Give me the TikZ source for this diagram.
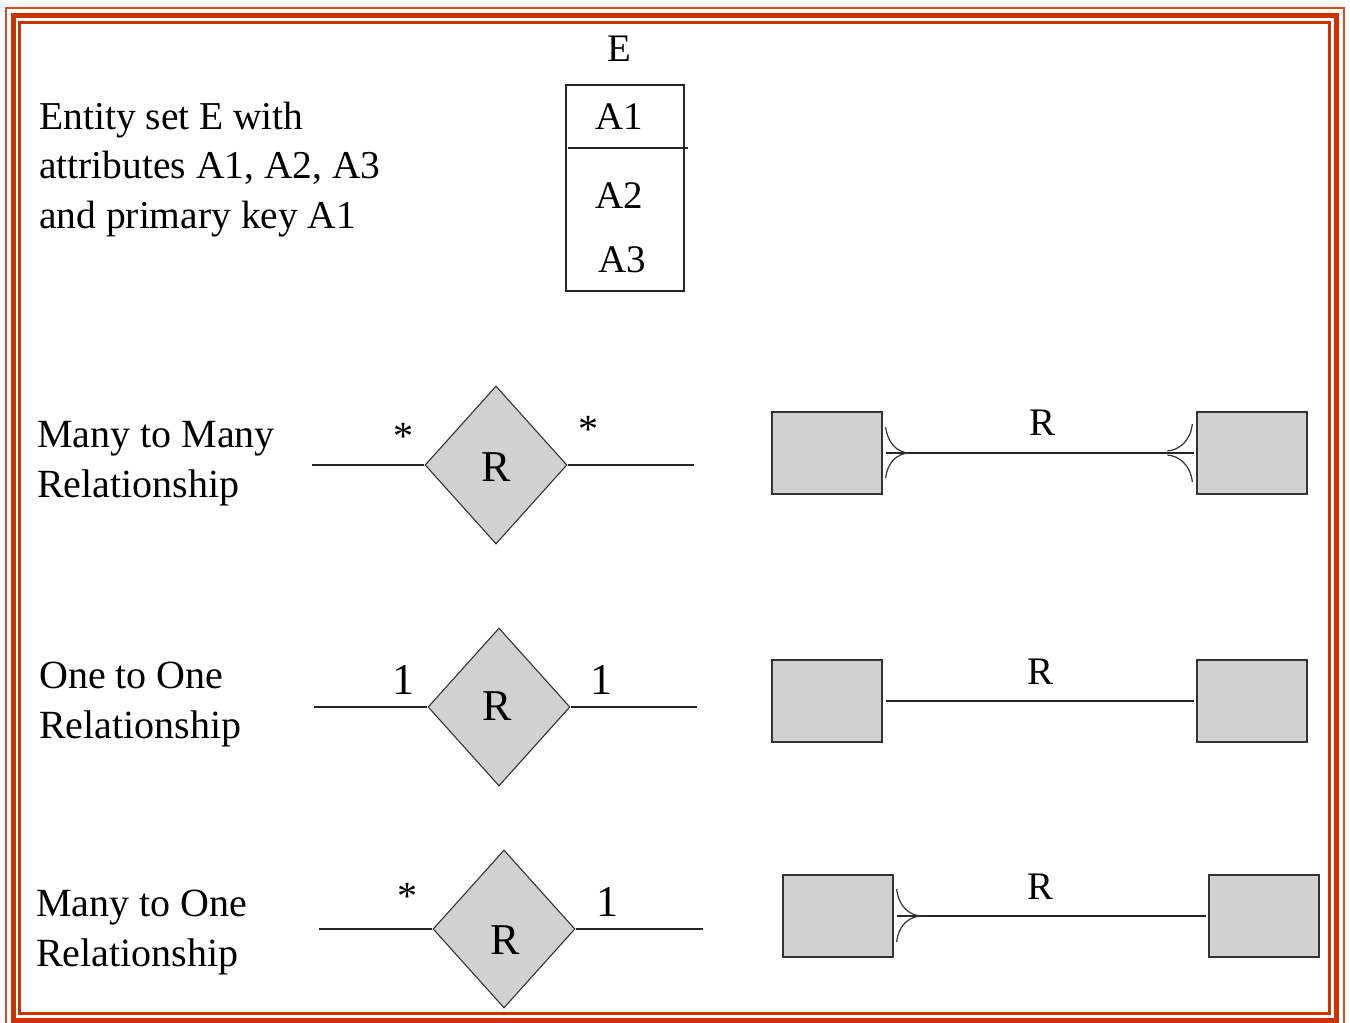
\documentclass[tikz,border=0pt]{standalone}
\usepackage{fontspec}
\setmainfont{Liberation Serif}
\usetikzlibrary{shapes.geometric,calc}
\definecolor{frame}{RGB}{204,51,0}
\definecolor{frameL}{RGB}{215,75,30}
\definecolor{boxgray}{RGB}{209,209,209}
\tikzset{
  lefttext/.style={anchor=base west, inner sep=0pt, align=left, font=\fontsize{40}{50}\selectfont},
  biglab/.style={inner sep=0pt, font=\fontsize{44}{46}\selectfont},
  tmslab/.style={inner sep=0pt, font=\fontsize{39}{46}\selectfont},
  starlab/.style={inner sep=0pt, font=\fontsize{40}{46}\selectfont},
  ent/.style={draw=black!80, line width=1.3pt, fill=boxgray, minimum width=110pt, minimum height=82pt, inner sep=0pt},
  rel/.style={diamond, draw=black!80, line width=1.1pt, fill=boxgray, minimum width=142pt, minimum height=158pt, inner sep=0pt},
  conn/.style={draw=black!85, line width=1.3pt},
  foot/.style={draw=black!80, line width=1.2pt},
}
\begin{document}
\begin{tikzpicture}[x=1pt,y=-1pt]
\useasboundingbox (0,0) rectangle (1350,1023);
% frame
\draw[frameL, line width=2pt] (6,7.5) rectangle (1344,1032);
\draw[frame, line width=5.5pt] (13.5,15.5) rectangle (1336.5,1020.5);
\draw[frame, line width=3pt] (19.5,22.5) rectangle (1329.5,1013.5);

% Entity set description
\node[lefttext, font=\fontsize{39.5}{49.5}\selectfont] (t0) at (39,228) {Entity set E with\\attributes A1, A2, A3\\and primary key A1};
\node[tmslab] (eE) at (619,49) {E};
\node[draw=black!85, line width=1.2pt, minimum width=118pt, minimum height=206pt, inner sep=0pt] (ebox) at (625,188) {};
\coordinate (sepL) at (568,148);
\coordinate (sepR) at (688,148);
\draw[conn] (sepL) -- (sepR);
\node[tmslab] (a1) at (619,117) {A1};
\node[tmslab] (a2) at (619,195.5) {A2};
\node[tmslab] (a3) at (622,259.5) {A3};

% Many to Many
\node[lefttext] (t1) at (37,497) {Many to Many\\Relationship};
\node[rel] (d1) at (496,465) {};
\node[biglab] (r1) at (496,467) {R};
\coordinate (l1a) at (312,465);
\coordinate (l1b) at (694,465);
\draw[conn] (l1a) -- (d1.west);
\draw[conn] (d1.east) -- (l1b);
\node[starlab] (s1a) at (403,436) {*};
\node[starlab] (s1b) at (588,429) {*};
\node[ent] (b1) at (827,453) {};
\node[ent] (b2) at (1252,453) {};
\draw[conn, shorten <=3pt, shorten >=2pt] (b1.east) -- (b2.west);
\node[tmslab] (rr1) at (1042,423) {R};
% crow's foot at b1
\coordinate (f1t) at ($(b1.east)+(26,0)$);
\draw[foot] ($(b1.east)+(3,-26)$) .. controls ($(b1.east)+(5,-10)$) and ($(f1t)+(-12,-1)$) .. (f1t);
\draw[foot] ($(b1.east)+(3,25)$) .. controls ($(b1.east)+(5,9)$) and ($(f1t)+(-12,1)$) .. (f1t);
% crow's foot at b2
\coordinate (f2t) at ($(b2.west)+(-29,-2)$);
\coordinate (f2b) at ($(b2.west)+(-29,2)$);
\draw[foot] ($(b2.west)+(-4,-29)$) .. controls ($(b2.west)+(-6,-12)$) and ($(f2t)+(12,-1)$) .. (f2t);
\draw[foot] ($(b2.west)+(-4,29)$) .. controls ($(b2.west)+(-6,12)$) and ($(f2b)+(12,1)$) .. (f2b);

% One to One
\node[lefttext] (t2) at (39,738) {One to One\\Relationship};
\node[rel] (d2) at (499,707) {};
\node[biglab] (r2) at (497,706) {R};
\coordinate (l2a) at (314,707);
\coordinate (l2b) at (697,707);
\draw[conn] (l2a) -- (d2.west);
\draw[conn] (d2.east) -- (l2b);
\node[biglab] (o2a) at (403,680) {1};
\node[biglab] (o2b) at (601,680) {1};
\node[ent] (b3) at (827,701) {};
\node[ent] (b4) at (1252,701) {};
\draw[conn, shorten <=3pt, shorten >=2pt] (b3.east) -- (b4.west);
\node[tmslab] (rr2) at (1040,672) {R};

% Many to One
\node[lefttext] (t3) at (36,966) {Many to One\\Relationship};
\node[rel] (d3) at (504,929) {};
\node[biglab] (r3) at (505,940) {R};
\coordinate (l3a) at (319,929);
\coordinate (l3b) at (703,929);
\draw[conn] (l3a) -- (d3.west);
\draw[conn] (d3.east) -- (l3b);
\node[starlab] (s3a) at (407,896) {*};
\node[biglab] (o3b) at (607,902) {1};
\node[ent] (b5) at (838,916) {};
\node[ent] (b6) at (1264,916) {};
\draw[conn, shorten <=3pt, shorten >=2pt] (b5.east) -- (b6.west);
\node[tmslab] (rr3) at (1040,887) {R};
\coordinate (f3t) at ($(b5.east)+(27,0)$);
\draw[foot] ($(b5.east)+(3,-27)$) .. controls ($(b5.east)+(5,-10)$) and ($(f3t)+(-12,-1)$) .. (f3t);
\draw[foot] ($(b5.east)+(3,26)$) .. controls ($(b5.east)+(5,9)$) and ($(f3t)+(-12,1)$) .. (f3t);
\end{tikzpicture}
\end{document}
